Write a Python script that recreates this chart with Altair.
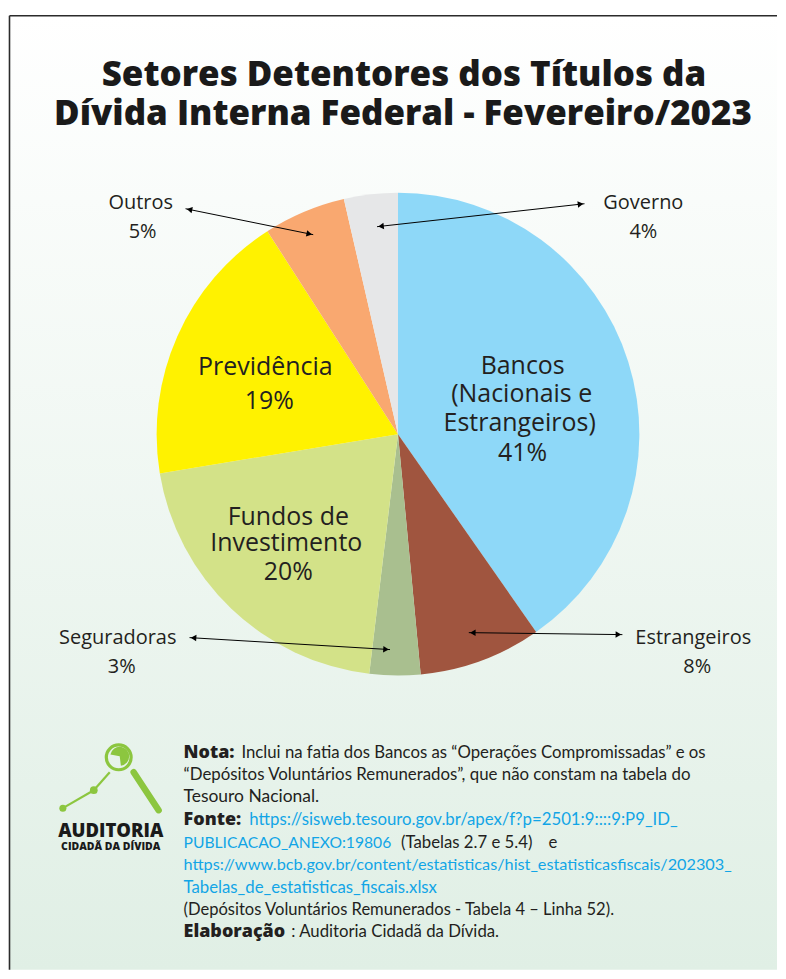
import math
import altair as alt
import pandas as pd

setores = ["Bancos", "Estrangeiros", "Seguradoras", "Fundos", "Previdência", "Outros", "Governo"]
valores = [40.3, 8.2, 3.4, 20.5, 18.5, 5.5, 3.6]
cores = ["#8ed8f8", "#a0553f", "#a9bf8f", "#d3e288", "#fff200", "#f9a870", "#e6e7e8"]
ordem = list(range(len(setores)))

OX, OY = 8, 8
ONE = alt.Data(values=[{"k": 1}])
W, H = 770, 963
BODY = "Lato"
LABEL = "Open Sans"
INK = "#231f20"
GREEN = "#8cc63f"
LINK = "#12a5e6"

layers = []

def T(s, x, y, size, font=BODY, weight="normal", color=INK, align="left"):
    layers.append(
        alt.Chart(ONE)
        .mark_text(align=align, baseline="alphabetic", font=font, fontSize=size, fontWeight=weight, color=color)
        .encode(x=alt.value(x - OX), y=alt.value(y - OY), text=alt.value(s))
    )

def L(x1, y1, x2, y2, color="#000000", w=1.0, cap="butt"):
    layers.append(
        alt.Chart(ONE)
        .mark_rule(color=color, strokeWidth=w, strokeCap=cap)
        .encode(x=alt.value(x1 - OX), x2=alt.value(x2 - OX), y=alt.value(y1 - OY), y2=alt.value(y2 - OY))
    )

def P(x, y, size, angle=0, shape="circle", color="#000000"):
    layers.append(
        alt.Chart(ONE)
        .mark_point(shape=shape, filled=True, size=size, angle=angle, color=color, opacity=1)
        .encode(x=alt.value(x - OX), y=alt.value(y - OY))
    )

# background panel with gradient
layers.append(
    alt.Chart(ONE)
    .mark_rect(
        fill=alt.Gradient(
            gradient="linear", x1=0, y1=0, x2=0, y2=1,
            stops=[alt.GradientStop(offset=0, color="#ffffff"),
                   alt.GradientStop(offset=1, color="#e0efe5")],
        ),
    )
    .encode(x=alt.value(1), x2=alt.value(W), y=alt.value(14.5 - OY), y2=alt.value(H))
)
L(8.5, 14.5, W + OX, 14.5, "#2b2b2b", 1.6)
L(8.5, 14.5, 8.5, H + OY, "#2b2b2b", 1.6)

# pie
df = pd.DataFrame({"setor": setores, "valor": valores, "ordem": ordem})
layers.append(
    alt.Chart(df)
    .mark_arc(radius=242)
    .encode(
        theta=alt.Theta("valor:Q", stack=True),
        order=alt.Order("ordem:Q"),
        color=alt.Color("setor:N", scale=alt.Scale(domain=setores, range=cores), legend=None),
        x=alt.value(398 - OX),
        y=alt.value(434 - OY),
    )
)

# arrows: tip to tip
def arrow(x1, y1, x2, y2):
    L(x1, y1, x2, y2, w=1.0)
    d = math.hypot(x2 - x1, y2 - y1)
    ux, uy = (x2 - x1) / d, (y2 - y1) / d
    a = math.degrees(math.atan2(ux, -uy)) % 360
    P(x2 - ux * 4, y2 - uy * 4, 42, a, "triangle-up")
    P(x1 + ux * 4, y1 + uy * 4, 42, (a + 180) % 360, "triangle-up")

arrow(185, 208, 313, 234)
arrow(377, 226, 585, 203)
arrow(189, 638, 390, 650)
arrow(469, 633, 623, 635)

# title
T("Setores Detentores dos Títulos da", 404, 85, 35, LABEL, 800, "#1a1a1a", "center")
T("Dívida Interna Federal - Fevereiro/2023", 403, 124, 35, LABEL, 800, "#1a1a1a", "center")

# pie labels
for s, x, y in [("Bancos", 523, 374), ("(Nacionais e", 522, 402), ("Estrangeiros)", 520, 431), ("41%", 523, 461),
                ("Previdência", 265, 375), ("19%", 269, 409),
                ("Fundos de", 288, 525), ("Investimento", 286, 551), ("20%", 288, 580)]:
    T(s, x, y, 25, LABEL, "normal", INK, "center")
for s, x, y in [("Outros", 140, 208), ("5%", 142, 237), ("Governo", 644, 208), ("4%", 644, 237),
                ("Seguradoras", 117, 644), ("3%", 121, 673), ("Estrangeiros", 694, 644), ("8%", 698, 673)]:
    T(s, x, y, 20, LABEL, "normal", INK, "center")

# notes
BOLD = 18
T("Nota:", 183, 759, BOLD, LABEL, 800)
T("Inclui na fatia dos Bancos as “Operações Compromissadas” e os", 241, 759, 16.8)
T("“Depósitos Voluntários Remunerados”, que não constam na tabela do", 183, 781, 16.9)
T("Tesouro Nacional.", 183, 803, 17.5)
T("Fonte:", 183, 826, BOLD, LABEL, 800)
T("https://sisweb.tesouro.gov.br/apex/f?p=2501:9::::9:P9_ID_", 249, 826, 16.8, color=LINK)
T("PUBLICACAO_ANEXO:19806", 183, 849, 15.7, color=LINK)
T("(Tabelas 2.7 e 5.4)", 401, 849, 16.8)
T("e", 549, 849, 16.8)
T("https://www.bcb.gov.br/content/estatisticas/hist_estatisticasfiscais/202303_", 183, 871, 16.3, color=LINK)
T("Tabelas_de_estatisticas_fiscais.xlsx", 183, 894, 16.8, color=LINK)
T("(Depósitos Voluntários Remunerados - Tabela 4 – Linha 52).", 183, 916, 16.6)
T("Elaboração", 183, 938, BOLD, LABEL, 800)
T(": Auditoria Cidadã da Dívida.", 291, 938, 16.8)

# logo
L(62, 809, 93, 791, GREEN, 2.2)
L(93, 791, 109, 773, GREEN, 2.2)
P(62, 809, 50, color=GREEN)
P(93, 791, 60, color=GREEN)
L(133, 773, 158, 811, GREEN, 6.5, "round")
layers.append(
    alt.Chart(ONE)
    .mark_point(shape="circle", filled=False, size=620, strokeWidth=3.2, color=GREEN, opacity=1)
    .encode(x=alt.value(118 - OX), y=alt.value(758 - OY))
)
layers.append(
    alt.Chart(ONE)
    .mark_arc(radius=9.5, theta=4.9, theta2=9.3, color=GREEN)
    .encode(x=alt.value(119 - OX), y=alt.value(757 - OY))
)
T("AUDITORIA", 110, 838, 18.5, "Open Sans", 800, "#1a1a1a", "center")
T("CIDADÃ DA DÍVIDA", 110, 851, 10.5, "Open Sans", 800, "#1a1a1a", "center")

chart = (
    alt.layer(*layers)
    .properties(width=W, height=H, padding=0, background="#ffffff")
    .configure_view(stroke=None)
)
chart.save("out.html", embed_options={"renderer": "svg", "actions": False})
